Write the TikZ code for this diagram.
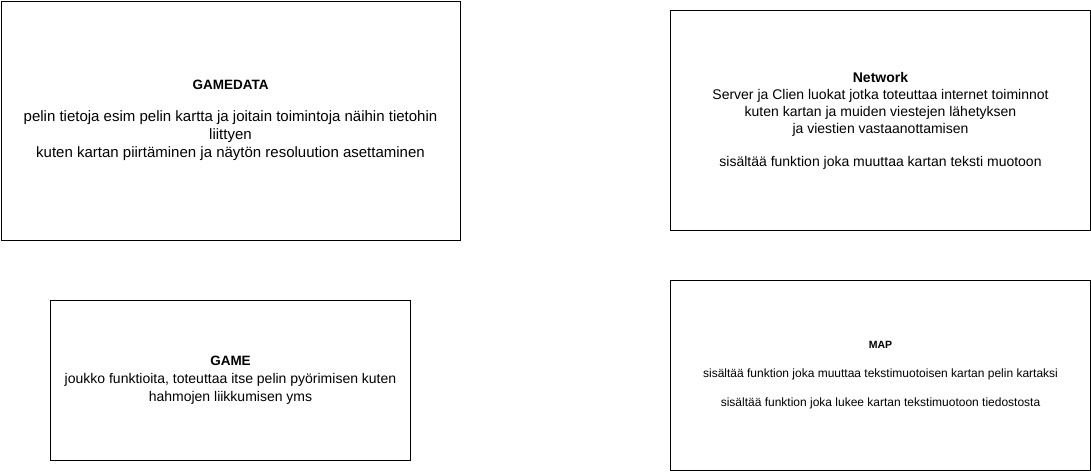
\documentclass[tikz,border=0pt]{standalone}
\usepackage{fontspec}
\setmainfont{Liberation Sans}
\usetikzlibrary{positioning}
\tikzstyle{module} = [rectangle, draw=black, line width=1pt, align=center]
\newcommand{\fs}[2]{\fontsize{#1}{#2}\selectfont}

\begin{document}
\begin{tikzpicture}[x=1pt, y=-1pt]
  \useasboundingbox (0,0) rectangle (1091,471);

  % Left side
  \node (gamedata) at (230.5,120.5) [module, minimum width=459pt, minimum height=239pt, font=\fs{15}{18}]
    {{\fs{13.5}{18}\textbf{GAMEDATA}}\\[14pt]
     pelin tietoja esim pelin kartta ja joitain toimintoja näihin tietohin\\
     liittyen\\
     kuten kartan piirtäminen ja näytön resoluution asettaminen};
  \node (game) at (230.5,380.5) [module, minimum width=360pt, minimum height=160pt, font=\fs{14}{18}]
    {{\fs{13.5}{18}\textbf{GAME}}\\
     joukko funktioita, toteuttaa itse pelin pyörimisen kuten\\
     hahmojen liikkumisen yms};

  % Right side
  \node (network) at (880.5,120.5) [module, minimum width=420pt, minimum height=220pt, font=\fs{14}{17}]
    {\textbf{Network}\\
     Server ja Clien luokat jotka toteuttaa internet toiminnot\\
     kuten kartan ja muiden viestejen lähetyksen\\
     ja viestien vastaanottamisen\\[16pt]
     sisältää funktion joka muuttaa kartan teksti muotoon};
  \node (map) at (880.5,375.5) [module, minimum width=420pt, minimum height=190pt, font=\fs{12}{14.5}]
    {{\fs{10.5}{14.5}\textbf{MAP}}\\ \mbox{}\\
     sisältää funktion joka muuttaa tekstimuotoisen kartan pelin kartaksi\\ \mbox{}\\
     sisältää funktion joka lukee kartan tekstimuotoon tiedostosta};

\end{tikzpicture}
\end{document}
